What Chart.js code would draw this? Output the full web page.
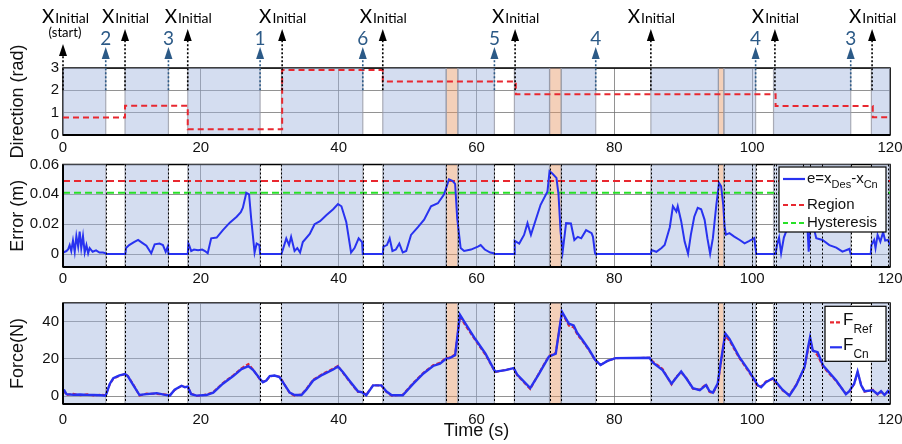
<!DOCTYPE html>
<html>
<head>
<meta charset="utf-8">
<script src="https://cdn.jsdelivr.net/npm/chart.js@4.4.0/dist/chart.umd.min.js"></script>
<style>
  body { margin: 0; background: #fff; }
  #wrap { position: relative; width: 902px; height: 444px; }
  canvas { position: absolute; left: 0; }
</style>
</head>
<body>
<div id="wrap">
  <canvas id="dirChart" style="top:0" width="902" height="160"></canvas>
  <canvas id="errChart" style="top:150px" width="902" height="140"></canvas>
  <canvas id="forceChart" style="top:290px" width="902" height="154"></canvas>
</div>
<script>
// x ticks (time, s)
const xTicks = [0, 20, 40, 60, 80, 100, 120];

// shaded regions (s)
const blueStart = [0, 9.0, 18.1, 31.7, 46.4, 57.3, 65.5, 72.3, 85.3, 95.9, 103.1, 117.3];
const blueEnd   = [6.2, 15.3, 28.6, 43.5, 55.6, 62.6, 70.6, 77.3, 95.1, 100.5, 114.3, 120];
const orangeStart = [55.6, 70.6, 95.1];
const orangeEnd   = [57.3, 72.3, 95.9];
// dotted switching lines in lower panels
const switchT = [6.2, 9.0, 15.3, 18.1, 28.6, 31.7, 43.5, 46.4, 55.6, 57.3, 62.6, 65.5, 70.6, 72.3,
                 77.3, 85.3, 95.1, 95.9, 100.0, 100.6, 103.1, 103.5, 107.4, 108.4, 110.2, 114.3, 117.3, 119.7];

// top annotations
const initT = [0, 9.0, 18.1, 31.8, 46.4, 65.6, 85.3, 103.3, 117.4];
const targetT = [6.2, 15.3, 28.6, 43.5, 62.6, 77.3, 100.5, 114.3];
const targetLabels = ['2', '3', '1', '6', '5', '4', '4', '3'];

// direction (rad)
const dirTicks = [0, 1, 2, 3];
const dirT = [0, 9.0, 18.1, 31.8, 46.4, 65.7, 103.4, 117.5, 120];
const dirV = [0.78, 1.31, 0.26, 2.91, 2.39, 1.83, 1.30, 0.79, 0.79];

// error (m)
const errTicks = [0, 0.02, 0.04, 0.06];
const errTickLabels = ['0', '0.02', '0.04', '0.06'];
const levelT = [0, 120];
const regionV = [0.049, 0.049];
const hystV = [0.041, 0.041];
const errT = [
  0, 0.5, 0.73, 0.97, 1.2, 1.45, 1.7, 1.94, 2.2, 2.42, 2.65, 2.9, 3.15, 3.4, 3.65, 3.87, 4.3, 4.8, 5.3, 5.8, 6.2, 6.25,
  9.05, 9.15, 9.6, 10.3, 10.9, 11.5, 12.1, 12.8, 13.3, 14.0, 14.5, 14.9, 15.2, 15.3,
  18.1, 18.2, 18.3, 18.6, 19.0, 19.6, 20.2, 20.6, 21.0, 21.5, 22.3, 23.2, 24.2, 25.2, 25.8, 26.1, 26.6, 27.0, 27.3, 27.8, 28.1, 28.5, 28.6,
  31.7, 31.8, 32.4, 32.8, 33.1, 33.6, 34.0, 34.4, 34.8, 35.8, 36.5, 37.3, 38.2, 39.2, 39.9, 40.4, 41.1, 41.8, 42.3, 42.9, 43.4, 43.5,
  46.4, 46.5, 47.0, 47.4, 47.8, 48.3, 48.8, 49.3, 49.8, 50.5, 51.5, 52.4, 53.4, 54.4, 55.3, 56.0, 56.5, 56.9, 57.2, 57.7, 58.2, 59.2, 60.2, 60.6, 61.2, 62.0, 62.5, 62.6,
  65.45, 65.55, 66.2, 66.9, 67.4, 67.9, 68.6, 69.3, 70.3, 70.6, 71.0, 71.6, 71.9, 72.2, 72.5, 73.0, 73.7, 74.2, 74.7, 75.2, 75.9, 76.7, 76.9, 77.2, 77.3,
  85.3, 85.4, 86.1, 86.85, 87.3, 88.05, 88.5, 89.0, 89.2, 89.7, 90.2, 90.7, 91.1, 91.6, 92.1, 92.6, 93.1, 93.5, 93.9, 94.3, 94.8, 95.2, 95.5, 95.8, 96.0, 96.2, 96.7, 97.4, 98.2, 98.9, 99.6, 100.3, 100.6,
  103.4, 103.6, 103.9, 104.2, 104.6, 105.0, 105.5, 106.2, 106.8, 107.5, 108.0, 108.2, 108.4, 108.7, 109.3, 110.2, 111.2, 112.2, 113.1, 114.1, 114.3,
  117.2, 117.3, 117.7, 117.9, 118.2, 118.6, 119.0, 119.3, 119.7, 120
];
const errV = [
  0.001, 0.002, 0.003, 0.006, 0.002, 0.009, 0.0015, 0.012, 0.005, 0.015, 0.004, 0.012, 0.001, 0.006, 0.0005, 0.004, 0.0015, 0.0025, 0.001, 0.001, 0.0005, 0,
  0, 0.004, 0.006, 0.008, 0.0095, 0.0075, 0.0055, 0.0005, 0.0065, 0.007, 0.006, 0.0015, 0.005, 0,
  0, 0.007, 0.006, 0.002, 0.003, 0.0025, 0.003, 0.002, 0.0005, 0.0105, 0.011, 0.016, 0.021, 0.025, 0.028, 0.031, 0.041, 0.040, 0.024, 0.001, 0.007, 0.006, 0,
  0, 0.0015, 0.0105, 0.006, 0.0115, 0.002, 0.004, 0.001, 0.008, 0.0135, 0.020, 0.022, 0.026, 0.030, 0.0335, 0.032, 0.0215, 0.001, 0.004, 0.0105, 0.008, 0,
  0, 0.005, 0.006, 0.0105, 0.002, 0.003, 0.007, 0.001, 0.002, 0.0128, 0.018, 0.023, 0.032, 0.034, 0.040, 0.050, 0.049, 0.047, 0.024, 0.004, 0.002, 0.003, 0.005, 0.006, 0.003, 0.001, 0.0005, 0,
  0, 0.0088, 0.007, 0.0128, 0.0207, 0.0128, 0.023, 0.033, 0.042, 0.0555, 0.054, 0.051, 0.040, 0.015, 0.0015, 0.0207, 0.0205, 0.0094, 0.0115, 0.0105, 0.016, 0.014, 0.0115, 0.0005, 0,
  0, 0.0027, 0.0015, 0.004, 0.006, 0.018, 0.032, 0.0285, 0.032, 0.022, 0.0083, 0.0002, 0.0128, 0.025, 0.031, 0.030, 0.0229, 0.0106, 0.0002, 0.0106, 0.033, 0.0476, 0.0454, 0.033, 0.0184, 0.013, 0.014, 0.0117, 0.0094, 0.0072, 0.0088, 0.0106, 0,
  0, 0.006, 0.011, 0.0005, 0.011, 0.016, 0.024, 0.028, 0.025, 0.022, 0.020, 0.0015, 0.0162, 0.022, 0.0106, 0.0094, 0.006, 0.0043, 0.0016, 0.0034, 0,
  0, 0.006, 0.0094, 0.004, 0.0128, 0.0083, 0.0146, 0.009, 0.0094, 0.006
];

// force (N)
const forceTicks = [0, 20, 40];
const fT = [0, 0.2, 0.5, 1.5, 2.5, 3.5, 4.4, 5.5, 6.2, 6.8, 7.3, 8.2, 9.0, 9.4, 10.2, 11.1, 12.1, 13.6, 15.0, 15.5,
  16.2, 17.2, 17.7, 18.1, 18.6, 19.4, 20.8, 21.8, 23.2, 24.7, 25.9, 26.9, 27.6, 28.6, 29.0, 29.5, 30.0, 30.7, 31.4, 31.9,
  32.9, 33.6, 34.6, 35.3, 36.3, 37.7, 39.2, 39.9, 40.6, 41.6, 42.8, 43.4, 44.0, 44.3, 45.0, 46.2, 46.9, 47.7, 49.3, 50.8,
  52.3, 53.7, 54.7, 55.6, 56.1, 56.9, 57.6, 58.4, 59.8, 61.3, 62.7, 64.2, 65.4, 65.9, 67.8, 69.0, 70.5, 71.5, 72.4, 73.4,
  74.1, 74.6, 75.4, 76.3, 77.2, 78.0, 79.0, 80.2, 85.1, 85.6, 87.0, 88.3, 89.0, 89.7, 90.5, 91.4, 92.4, 93.3, 93.8, 94.3,
  95.0, 95.5, 96.1, 96.7, 98.1, 99.6, 100.8, 101.3, 102.0, 103.0, 103.5, 104.4, 105.4, 106.4, 107.6, 108.1, 108.4, 108.8, 109.5, 110.3,
  112.2, 113.6, 114.1, 114.8, 115.3, 115.8, 116.3, 117.5, 118.2, 118.7, 119.2, 119.7, 120];
const fCn = [2.7, 3.0, 1.1, 0.8, 0.9, 0.7, 0.6, 0.5, 0.3, 6.7, 9.6, 11.2, 11.9, 10.8, 5.9, 0.6, 1.1, 1.6, 0.6, 0.3,
  3.5, 5.6, 4.8, 5.1, 1.1, 0.3, 0.6, 1.9, 6.7, 10.8, 14.5, 16.1, 14.0, 9.2, 7.5, 8.4, 10.8, 11.1, 10.3, 7.5,
  1.9, 0.6, 0.6, 3.5, 8.4, 11.6, 14.3, 15.9, 13.0, 8.2, 2.6, 2.1, 0.5, 2.1, 5.8, 5.8, 2.6, 0.5, 0.5, 6.6,
  12.2, 16.2, 17.5, 20.2, 20.4, 22.0, 43.7, 38.9, 30.8, 22.8, 13.2, 14.0, 15.1, 11.6, 4.3, 11.6, 21.2, 22.8, 45.3, 38.9,
  38.0, 34.0, 30.0, 25.2, 19.6, 16.7, 18.9, 20.4, 20.6, 18.0, 14.0, 6.7, 10.0, 13.2, 9.2, 4.3, 3.2, 5.9, 2.7, 1.9,
  6.7, 19.6, 33.7, 30.8, 21.2, 13.2, 5.9, 4.8, 7.5, 9.6, 7.5, 3.5, 0.3, 5.9, 15.6, 26.0, 31.6, 24.4, 23.6, 16.4,
  8.4, 1.1, 2.7, 6.7, 13.2, 6.0, 2.7, 3.2, 1.1, 2.7, 0.6, 2.7, 1.5];
const fRef = [2.0, 2.5, 0.6, 1.3, 0.5, 1.0, 0.4, 0.8, 0.5, 6.5, 9.4, 11.0, 11.8, 10.9, 6.3, 0.3, 1.4, 1.2, 0.9, 0.5,
  3.3, 5.5, 4.9, 5.0, 1.4, 0.1, 0.9, 2.2, 7.1, 11.2, 15.0, 17.3, 14.2, 8.8, 7.8, 8.3, 10.6, 11.0, 10.5, 7.8,
  1.6, 0.3, 0.9, 3.8, 8.9, 12.0, 14.8, 16.3, 12.6, 7.7, 2.2, 2.4, 0.8, 2.3, 5.9, 5.7, 2.3, 0.2, 0.8, 7.0,
  12.6, 16.6, 17.9, 20.6, 20.8, 22.4, 42.9, 37.9, 30.2, 22.2, 12.9, 14.1, 15.0, 11.2, 3.8, 11.9, 21.6, 23.2, 44.8, 37.8,
  36.9, 33.2, 29.4, 24.8, 19.4, 16.8, 18.9, 20.4, 20.6, 18.6, 14.6, 6.2, 10.6, 12.6, 9.6, 3.9, 3.5, 6.4, 2.3, 1.5,
  6.3, 18.8, 32.2, 29.8, 20.6, 12.6, 5.4, 5.2, 7.9, 9.2, 7.0, 3.1, 0.6, 6.3, 15.2, 25.0, 30.2, 24.8, 21.8, 15.6,
  8.0, 1.4, 2.4, 6.5, 12.8, 6.3, 2.3, 3.5, 0.8, 2.3, 0.9, 2.4, 1.8];

const FONT = '"Liberation Sans", Arial, sans-serif';
const BLUE = 'rgb(40,50,240)';
const RED = 'rgb(232,40,48)';
const GREEN = 'rgb(40,225,40)';
const NAVY = 'rgb(44,90,135)';

function pts(xs, ys) {
  const n = Math.min(xs.length, ys.length);
  const out = [];
  for (let i = 0; i < n; i++) out.push({ x: xs[i], y: ys[i] });
  return out;
}

function rect(a, b, lo, hi, fill) {
  return {
    data: [{ x: a, y: lo }, { x: a, y: hi }, { x: b, y: hi }, { x: b, y: lo }],
    fill: 'start', backgroundColor: fill,
    borderColor: 'rgba(150,152,165,0.8)', borderWidth: 1.2,
    pointRadius: 0, order: 10
  };
}

function shading(lo, hi) {
  const sets = [];
  for (let i = 0; i < blueStart.length; i++)
    sets.push(rect(blueStart[i], blueEnd[i], lo, hi, 'rgba(160,180,222,0.45)'));
  for (let i = 0; i < orangeStart.length; i++)
    sets.push(rect(orangeStart[i], orangeEnd[i], lo, hi, 'rgba(230,150,100,0.45)'));
  return sets;
}

function xAxis(pad, h, title) {
  return {
    type: 'linear', min: 0, max: 120,
    afterBuildTicks: s => { s.ticks = xTicks.map(v => ({ value: v })); },
    afterFit: s => { s.height = h; s.paddingLeft = 0; s.paddingRight = 0; },
    grid: { color: 'rgba(110,110,110,0.75)', lineWidth: 1, drawTicks: false },
    border: { display: false },
    ticks: { padding: pad, maxRotation: 0, color: '#111', font: { family: FONT, size: 15 } },
    title: title
      ? { display: true, text: title, color: '#111', font: { family: FONT, size: 18 }, padding: { top: 0, bottom: 2 } }
      : { display: false }
  };
}

function yAxis(min, max, ticks, labels, title) {
  return {
    min: min, max: max,
    afterBuildTicks: s => { s.ticks = ticks.map(v => ({ value: v })); },
    afterFit: s => { s.width = 63; },
    grid: { color: 'rgba(110,110,110,0.75)', lineWidth: 1, drawTicks: false },
    border: { display: false },
    ticks: { padding: 4, color: '#111', font: { family: FONT, size: 15 },
             callback: (v, i) => labels[i] },
    title: { display: true, text: title, color: '#111', font: { family: FONT, size: 18 }, padding: { top: 7, bottom: 0 } }
  };
}

const framePlugin = {
  id: 'frame',
  beforeDatasetsDraw(chart) {
    const { ctx, chartArea: a } = chart;
    ctx.save();
    ctx.strokeStyle = '#000';
    ctx.lineWidth = 1.5;
    ctx.strokeRect(a.left, a.top, a.right - a.left, a.bottom - a.top);
    ctx.restore();
  },
  afterDatasetsDraw(chart, args, opts) {
    const { ctx, chartArea: a } = chart;
    ctx.save();
    if (opts.lines) {
      ctx.strokeStyle = '#000';
      ctx.lineWidth = 1;
      ctx.setLineDash([2, 2]);
      ctx.beginPath();
      switchT.forEach(t => {
        const x = Math.round(chart.scales.x.getPixelForValue(t)) + 0.5;
        ctx.moveTo(x, a.top);
        ctx.lineTo(x, a.bottom);
      });
      ctx.stroke();
      ctx.setLineDash([]);
    }
    ctx.strokeStyle = '#000';
    ctx.lineWidth = 2;
    ctx.beginPath();
    ctx.moveTo(a.left, a.bottom);
    ctx.lineTo(a.right, a.bottom);
    if (opts.left) {
      ctx.moveTo(a.left, a.top);
      ctx.lineTo(a.left, a.bottom);
    }
    ctx.stroke();
    ctx.restore();
  }
};

function arrow(ctx, x, yFrom, tip, color) {
  ctx.strokeStyle = color;
  ctx.fillStyle = color;
  ctx.lineWidth = 1.6;
  ctx.setLineDash([2, 2]);
  ctx.beginPath();
  ctx.moveTo(x, yFrom);
  ctx.lineTo(x, tip + 12);
  ctx.stroke();
  ctx.setLineDash([]);
  ctx.beginPath();
  ctx.moveTo(x, tip);
  ctx.lineTo(x - 4, tip + 12);
  ctx.lineTo(x + 4, tip + 12);
  ctx.closePath();
  ctx.fill();
}

const annotPlugin = {
  id: 'annot',
  afterDraw(chart) {
    const { ctx } = chart;
    const xs = chart.scales.x, ys = chart.scales.y;
    const y2 = ys.getPixelForValue(2);
    ctx.save();
    initT.forEach((t, i) => {
      const x = xs.getPixelForValue(t);
      arrow(ctx, x, y2, i === 0 ? 44 : 29, '#000');
      ctx.font = '19px Lato';
      const w1 = ctx.measureText('X').width;
      ctx.font = '14px Lato';
      const w2 = ctx.measureText('Initial').width;
      const cx = i === 0 ? x + 2 : x;
      let sx = cx - (w1 + w2) / 2;
      ctx.fillStyle = '#000';
      ctx.textBaseline = 'alphabetic';
      ctx.textAlign = 'left';
      ctx.font = '19px Lato';
      ctx.fillText('X', sx, 23);
      ctx.font = '14px Lato';
      ctx.fillText('Initial', sx + w1 + 1, 23);
      if (i === 0) {
        ctx.font = '13px Lato';
        ctx.textAlign = 'center';
        ctx.fillText('(start)', cx, 37);
      }
    });
    targetT.forEach((t, i) => {
      const x = xs.getPixelForValue(t);
      arrow(ctx, x, y2, 47, NAVY);
      ctx.fillStyle = NAVY;
      ctx.font = '19px Lato';
      ctx.textAlign = 'center';
      ctx.textBaseline = 'alphabetic';
      ctx.fillText(targetLabels[i], x, 45);
    });
    ctx.restore();
  }
};

function richText(ctx, x, y, parts) {
  let cx = x;
  parts.forEach(p => {
    ctx.font = p[1] + 'px ' + FONT;
    ctx.fillText(p[0], cx, y + p[2]);
    cx += ctx.measureText(p[0]).width;
  });
}

function legendLine(ctx, x0, x1, y, color, dash) {
  ctx.strokeStyle = color;
  ctx.lineWidth = 2.2;
  ctx.setLineDash(dash);
  ctx.beginPath();
  ctx.moveTo(x0, y);
  ctx.lineTo(x1, y);
  ctx.stroke();
  ctx.setLineDash([]);
}

const errLegend = {
  id: 'errLegend',
  afterDraw(chart) {
    const { ctx, chartArea: a } = chart;
    const r = a.right - 4, t = a.top + 2.5, w = 107, h = 65;
    const l = r - w;
    ctx.save();
    ctx.fillStyle = '#fff';
    ctx.fillRect(l, t, w, h);
    ctx.strokeStyle = '#000';
    ctx.lineWidth = 1.2;
    ctx.strokeRect(l, t, w, h);
    legendLine(ctx, l + 4, l + 26, t + 12, BLUE, []);
    legendLine(ctx, l + 4, l + 26, t + 38, RED, [5, 3]);
    legendLine(ctx, l + 4, l + 26, t + 56, GREEN, [5, 3]);
    ctx.fillStyle = '#111';
    ctx.textBaseline = 'middle';
    ctx.textAlign = 'left';
    richText(ctx, l + 28, t + 12, [['e=x', 15, 0], ['Des', 11, 6], ['-x', 15, 0], ['Cn', 11, 6]]);
    richText(ctx, l + 28, t + 38, [['Region', 15, 0]]);
    richText(ctx, l + 28, t + 56, [['Hysteresis', 15, 0]]);
    ctx.restore();
  }
};

const forceLegend = {
  id: 'forceLegend',
  afterDraw(chart) {
    const { ctx, chartArea: a } = chart;
    const r = a.right - 4, t = a.top + 3.3, w = 61, h = 55;
    const l = r - w;
    ctx.save();
    ctx.fillStyle = '#fff';
    ctx.fillRect(l, t, w, h);
    ctx.strokeStyle = '#000';
    ctx.lineWidth = 1.2;
    ctx.strokeRect(l, t, w, h);
    legendLine(ctx, l + 5, l + 17, t + 16, RED, [4, 2]);
    legendLine(ctx, l + 5, l + 17, t + 41, BLUE, []);
    ctx.fillStyle = '#111';
    ctx.textBaseline = 'middle';
    ctx.textAlign = 'left';
    richText(ctx, l + 18, t + 14, [['F', 17, 0], ['Ref', 12, 9]]);
    richText(ctx, l + 18, t + 39, [['F', 17, 0], ['Cn', 12, 9]]);
    ctx.restore();
  }
};

Chart.defaults.font.family = FONT;

function baseOptions(padTop, scales, plugOpts) {
  return {
    responsive: false,
    animation: false,
    devicePixelRatio: 1,
    layout: { padding: { left: 0, right: 12, top: padTop, bottom: 0 } },
    elements: { line: { tension: 0 }, point: { radius: 0 } },
    plugins: Object.assign({ legend: { display: false }, tooltip: { enabled: false } }, plugOpts),
    scales: scales
  };
}

new Chart(document.getElementById('dirChart'), {
  type: 'line',
  data: {
    datasets: shading(0, 3).concat([{
      data: pts(dirT, dirV), stepped: true, borderColor: RED, borderWidth: 2,
      borderDash: [6, 4], fill: false, pointRadius: 0, order: 1
    }])
  },
  options: baseOptions(68, {
    x: xAxis(4, 25, null),
    y: yAxis(0, 3, dirTicks, dirTicks.map(String), 'Direction (rad)')
  }, { frame: { left: false, lines: false } }),
  plugins: [framePlugin, annotPlugin]
});

new Chart(document.getElementById('errChart'), {
  type: 'line',
  data: {
    datasets: shading(-0.0087, 0.06).concat([
      { data: pts(levelT, regionV), borderColor: RED, borderWidth: 2, borderDash: [7, 4], fill: false, pointRadius: 0, order: 3 },
      { data: pts(levelT, hystV), borderColor: GREEN, borderWidth: 2, borderDash: [7, 4], fill: false, pointRadius: 0, order: 2 },
      { data: pts(errT, errV), borderColor: BLUE, borderWidth: 2, fill: false, pointRadius: 0, order: 1 }
    ])
  },
  options: baseOptions(14.5, {
    x: xAxis(3, 23, null),
    y: yAxis(-0.0087, 0.06, errTicks, errTickLabels, 'Error (m)')
  }, { frame: { left: true, lines: true } }),
  plugins: [framePlugin, errLegend]
});

new Chart(document.getElementById('forceChart'), {
  type: 'line',
  data: {
    datasets: shading(-4.2, 50).concat([
      { data: pts(fT, fRef), borderColor: RED, borderWidth: 2, borderDash: [4, 2], fill: false, pointRadius: 0, order: 2 },
      { data: pts(fT, fCn), borderColor: BLUE, borderWidth: 2.4, fill: false, pointRadius: 0, order: 1 }
    ])
  },
  options: baseOptions(2, {
    x: xAxis(7, 40, 'Time (s)'),
    y: yAxis(-4.2, 50, forceTicks, forceTicks.map(String), 'Force(N)')
  }, { frame: { left: true, lines: true } }),
  plugins: [framePlugin, forceLegend]
});
</script>
</body>
</html>
